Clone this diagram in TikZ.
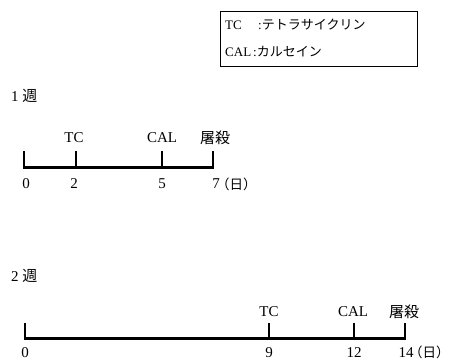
\documentclass[tikz,border=0pt]{standalone}
\usepackage{fontspec}
\setmainfont{Liberation Serif}
\newfontfamily\jp{Noto Sans CJK JP}
\begin{document}
\begin{tikzpicture}[x=1pt,y=-1pt,
  txt/.style={inner sep=0pt,font=\fontsize{15}{17}\selectfont},
  ltxt/.style={inner sep=0pt,font=\fontsize{13}{15}\selectfont},
  unit/.style={inner sep=0pt,font=\fontsize{13.5}{16}\selectfont\jp},
  axis/.style={line width=3pt},
  tick/.style={line width=1.2pt},
  frame/.style={draw,line width=0.8pt}]
\useasboundingbox (0,0) rectangle (450,361);
% legend box
\draw[frame] (220,11) rectangle (417,66);
\node[ltxt,anchor=west] (ltc) at (225,25) {TC};
\node[ltxt,anchor=west] (ltcd) at (258,25) {:{\jp テトラサイクリン}};
\node[ltxt,anchor=west] (lcal) at (225,52) {CAL};
\node[ltxt,anchor=west] (lcald) at (253,52) {:{\jp カルセイン}};
% 1 week
\node[txt,anchor=west] (w1) at (11,96) {1 {\jp 週}};
\coordinate (a0) at (24,167.5);
\coordinate (a2) at (76,167.5);
\coordinate (a5) at (162,167.5);
\coordinate (a7) at (213,167.5);
\draw[axis] ([xshift=-0.6pt]a0) -- ([xshift=0.6pt]a7);
\foreach \c in {a0,a2,a5,a7}{\draw[tick] (\c) -- ++(0,-17);}
\node[txt] (a2t) at (74,138) {TC};
\node[txt] (a5t) at (162,138) {CAL};
\node[txt] (a7t) at (215,138) {\jp 屠殺};
\node[txt] (a0l) at (26,184) {0};
\node[txt] (a2l) at (74,184) {2};
\node[txt] (a5l) at (162,184) {5};
\node[txt] (a7l) at (216,184) {7};
\node[unit,anchor=west] (a7u) at (216,184) {（日）};
% 2 weeks
\node[txt,anchor=west] (w2) at (11,276) {2 {\jp 週}};
\coordinate (b0) at (25,338.5);
\coordinate (b9) at (269,338.5);
\coordinate (b12) at (354,338.5);
\coordinate (b14) at (405,338.5);
\draw[axis] ([xshift=-0.6pt]b0) -- ([xshift=0.6pt]b14);
\foreach \c in {b0,b9,b12,b14}{\draw[tick] (\c) -- ++(0,-16);}
\node[txt] (b9t) at (269,311.5) {TC};
\node[txt] (b12t) at (353,311.5) {CAL};
\node[txt] (b14t) at (404,311.5) {\jp 屠殺};
\node[txt] (b0l) at (25,352.5) {0};
\node[txt] (b9l) at (269,352.5) {9};
\node[txt] (b12l) at (354,352.5) {12};
\node[txt] (b14l) at (406,352.5) {14};
\node[unit,anchor=west] (b14u) at (409,352.5) {（日）};
\end{tikzpicture}
\end{document}
